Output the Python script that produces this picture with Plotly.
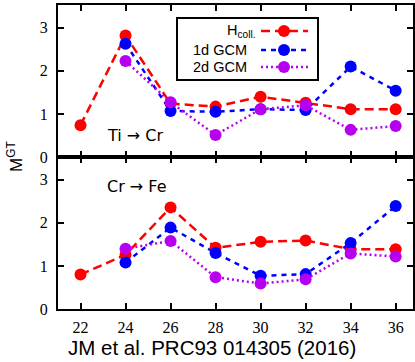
import plotly.graph_objects as go
from plotly.subplots import make_subplots

x_vals = [22, 24, 26, 28, 30, 32, 34, 36]
x_gcm = [24, 26, 28, 30, 32, 34, 36]

# Ti -> Cr (top panel)
ti_hcoll = [0.74, 2.82, 1.24, 1.17, 1.40, 1.26, 1.11, 1.11]
ti_1d = [2.63, 1.07, 1.05, 1.11, 1.09, 2.10, 1.54]
ti_2d = [2.23, 1.27, 0.51, 1.11, 1.20, 0.63, 0.72]

# Cr -> Fe (bottom panel)
cr_hcoll = [0.80, 1.26, 2.36, 1.42, 1.56, 1.59, 1.39, 1.39]
cr_1d = [1.08, 1.89, 1.30, 0.77, 0.81, 1.53, 2.39]
cr_2d = [1.40, 1.58, 0.74, 0.59, 0.69, 1.29, 1.22]

series_names = ["H<sub>coll.</sub>", "1d GCM", "2d GCM"]
y_ticks = [0, 1, 2, 3]

RED = "#ff0000"
BLUE = "#0000ff"
PURPLE = "#b800f0"
styles = [(RED, "9px,5px"), (BLUE, "5px,5px"), (PURPLE, "2px,3px")]

W, H = 415, 362
ML, MR, MT, MB = 58, 2, 5, 53
PW = W - ML - MR
PH = H - MT - MB


def px(xp):
    return (xp - ML) / PW


def py(yp):
    return (H - MB - yp) / PH


fig = make_subplots(rows=2, cols=1, shared_xaxes=True, vertical_spacing=0)

panels = [
    (1, [(x_vals, ti_hcoll), (x_gcm, ti_1d), (x_gcm, ti_2d)]),
    (2, [(x_vals, cr_hcoll), (x_gcm, cr_1d), (x_gcm, cr_2d)]),
]
for row, data in panels:
    for idx in [0, 1, 2]:
        xs, ys = data[idx]
        col, dash = styles[idx]
        fig.add_trace(
            go.Scatter(
                x=xs, y=ys, mode="lines+markers",
                line=dict(color=col, width=2.5, dash=dash),
                marker=dict(color=col, size=12),
                showlegend=False, name=series_names[idx],
            ),
            row=row, col=1,
        )

tickfont = dict(family="Liberation Serif, serif", size=16, color="black")
axis_common = dict(
    showline=True, linewidth=2, linecolor="black", mirror="ticks",
    ticks="inside", ticklen=6, tickwidth=1.5, tickcolor="black",
    showgrid=False, zeroline=False, tickfont=tickfont,
)
for r in [1, 2]:
    fig.update_xaxes(range=[21, 36.77], tickvals=x_vals, row=r, col=1, **axis_common)
    fig.update_yaxes(range=[0, 3.53], tickvals=y_ticks, row=r, col=1,
                     ticklabelstandoff=5, **axis_common)
fig.update_xaxes(showticklabels=False, row=1, col=1)
fig.update_xaxes(ticklabelstandoff=3, row=2, col=1)


def ann(text, x, y, size, family, xanchor="center", angle=0):
    return dict(text=text, x=px(x), y=py(y), xref="paper", yref="paper",
                xanchor=xanchor, yanchor="middle", showarrow=False, textangle=angle,
                font=dict(family=family, size=size, color="black"))


annotations = [
    ann("M<sup>GT</sup>", 15, 157, 17, "Liberation Sans, Arial", angle=-90),
    ann("Ti → Cr", 135, 135, 16, "DejaVu Sans"),
    ann("Cr → Fe", 137, 186, 16, "DejaVu Sans"),
    ann("JM et al. PRC93 014305 (2016)", 212, 347, 20.5, "Liberation Sans, Arial"),
]

shapes = [
    dict(type="rect", xref="paper", yref="paper", x0=px(177), x1=px(318),
         y0=py(80), y1=py(18), line=dict(color="black", width=2),
         fillcolor="white", layer="above"),
]
row_y = [31, 50, 67]
text_right = [258, 249, 249]
for i, name in enumerate(series_names):
    col, dash = styles[i]
    annotations.append(ann(name, text_right[i], row_y[i], 14.5, "Liberation Sans, Arial",
                           xanchor="right"))
    shapes.append(dict(type="line", xref="paper", yref="paper", x0=px(261), x1=px(308),
                       y0=py(row_y[i]), y1=py(row_y[i]),
                       line=dict(color=col, width=2.5, dash=dash), layer="above"))
    shapes.append(dict(type="circle", xref="paper", yref="paper", xsizemode="pixel",
                       ysizemode="pixel", xanchor=px(284), yanchor=py(row_y[i]),
                       x0=-6, x1=6, y0=-6, y1=6, fillcolor=col,
                       line=dict(color=col, width=0), layer="above"))

fig.update_layout(
    template="none",
    width=W, height=H, margin=dict(l=ML, r=MR, t=MT, b=MB),
    plot_bgcolor="white", paper_bgcolor="white",
    font=dict(color="black"),
    annotations=annotations, shapes=shapes, showlegend=False,
)

fig.write_html("out.html")
